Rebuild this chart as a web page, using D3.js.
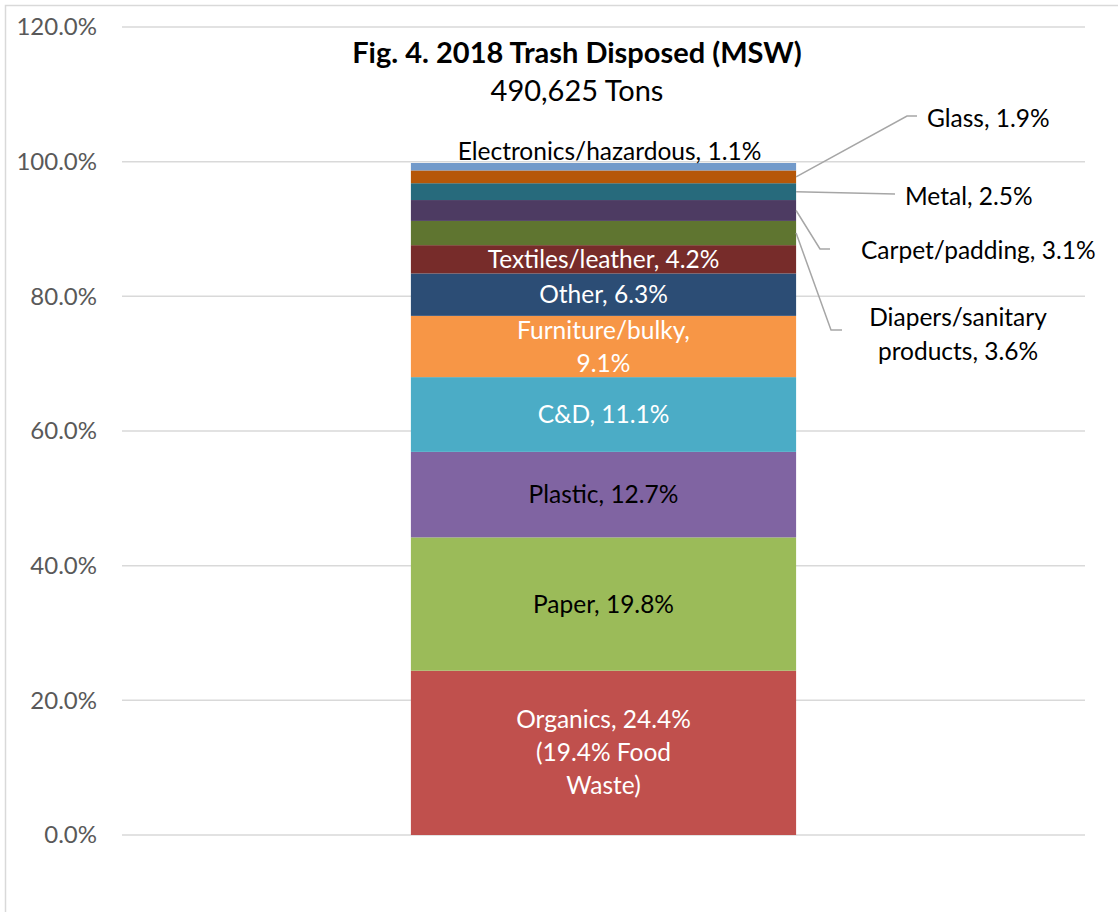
<!DOCTYPE html>
<html>
<head>
<meta charset="utf-8">
<script src="https://cdn.jsdelivr.net/npm/d3@7"></script>
<style>
  body { margin: 0; background: #fff; }
  text { font-family: Lato, "Open Sans", sans-serif; }
</style>
</head>
<body>
<div id="chart"></div>
<script>
// data, bottom to top
const categories = ["Organics", "Paper", "Plastic", "C&D", "Furniture/bulky", "Other",
  "Textiles/leather", "Diapers/sanitary products", "Carpet/padding", "Metal", "Glass",
  "Electronics/hazardous"];
const values = [24.4, 19.8, 12.7, 11.1, 9.1, 6.3, 4.2, 3.6, 3.1, 2.5, 1.9, 1.1];
const labelLines = [
  ["Organics, 24.4%", "(19.4% Food", "Waste)"],
  ["Paper, 19.8%"],
  ["Plastic, 12.7%"],
  ["C&D, 11.1%"],
  ["Furniture/bulky,", "9.1%"],
  ["Other, 6.3%"],
  ["Textiles/leather, 4.2%"],
  ["Diapers/sanitary", "products, 3.6%"],
  ["Carpet/padding, 3.1%"],
  ["Metal, 2.5%"],
  ["Glass, 1.9%"],
  ["Electronics/hazardous, 1.1%"]
];
const yTicks = [0, 20, 40, 60, 80, 100, 120];

const colors = ["#C0504D", "#9BBB59", "#8064A2", "#4BACC6", "#F79646", "#2C4D75",
  "#772C2A", "#5F7530", "#4D3B62", "#276A7C", "#B65708", "#729ACA"];
const textColors = ["#fff", "#000", "#000", "#fff", "#fff", "#fff", "#fff"];

// callout placement for the thin segments (label anchor + elbow of leader line)
const callouts = {
  "Glass": { elbow: [907, 116], end: [917, 116], tx: 927, ty: 118, anchor: "start" },
  "Metal": { elbow: null, end: [895, 194], tx: 905, ty: 196, anchor: "start" },
  "Carpet/padding": { elbow: [820, 249], end: [830, 249], tx: 861, ty: 250, anchor: "start" },
  "Diapers/sanitary products": { elbow: [831, 330], end: [842, 330], tx: 958, ty: 317, anchor: "middle" }
};

const width = 1118, height = 912;
const plotLeft = 122, plotRight = 1085;
const fs = "24.5px";

const svg = d3.select("#chart").append("svg")
  .attr("width", width).attr("height", height);

// chart border (left/top visible)
svg.append("rect")
  .attr("x", 5.5).attr("y", 5.5)
  .attr("width", width + 20).attr("height", height + 20)
  .attr("fill", "none").attr("stroke", "#d9d9d9").attr("stroke-width", 1.5);

const y = d3.scaleLinear().domain([0, 120]).range([835, 27]);
const x = d3.scaleBand().domain(["2018"]).range([plotLeft, plotRight]).paddingInner(0.6).paddingOuter(0.3);

// gridlines
svg.append("g")
  .selectAll("line")
  .data(yTicks)
  .join("line")
  .attr("x1", plotLeft).attr("x2", plotRight)
  .attr("y1", d => y(d)).attr("y2", d => y(d))
  .attr("stroke", "#d9d9d9").attr("stroke-width", 1.5);

// y axis labels
const yAxis = d3.axisLeft(y).tickValues(yTicks).tickFormat(d => d.toFixed(1) + "%").tickSize(0).tickPadding(0);
const ya = svg.append("g").attr("transform", "translate(97,0)").call(yAxis);
ya.select(".domain").remove();
ya.selectAll("text").attr("fill", "#595959").style("font-size", "24px")
  .style("font-family", "Lato, 'Open Sans', sans-serif");

// stack
let acc = 0;
const segs = values.map((v, i) => {
  const s = { name: categories[i], v, y0: acc, y1: acc + v, i };
  acc += v;
  return s;
});

const bx = x("2018"), bw = x.bandwidth();
const cx = bx + bw / 2;

svg.append("g")
  .selectAll("rect")
  .data(segs)
  .join("rect")
  .attr("x", bx).attr("width", bw)
  .attr("y", d => y(d.y1))
  .attr("height", d => y(d.y0) - y(d.y1))
  .attr("fill", d => colors[d.i]);

// inside labels
const inside = segs.filter(d => d.i < 7);
inside.forEach(d => {
  const lines = labelLines[d.i];
  const mid = y((d.y0 + d.y1) / 2);
  const lh = 33;
  const t = svg.append("text")
    .attr("text-anchor", "middle")
    .attr("fill", textColors[d.i])
    .style("font-size", fs);
  lines.forEach((l, k) => {
    t.append("tspan")
      .attr("x", cx)
      .attr("y", mid + (k - (lines.length - 1) / 2) * lh)
      .attr("dy", "0.35em")
      .text(l);
  });
});

// top label (Electronics)
const topSeg = segs[segs.length - 1];
svg.append("text")
  .attr("x", cx + 6).attr("y", y(topSeg.y1) - 12)
  .attr("dy", "0.35em")
  .attr("text-anchor", "middle")
  .style("font-size", fs)
  .text(labelLines[topSeg.i][0]);

// callouts
segs.filter(d => callouts[d.name]).forEach(d => {
  const c = callouts[d.name];
  const start = [bx + bw, y((d.y0 + d.y1) / 2)];
  const pts = [start];
  if (c.elbow) pts.push(c.elbow);
  pts.push(c.end);
  svg.append("path")
    .attr("d", d3.line()(pts))
    .attr("fill", "none").attr("stroke", "#a6a6a6").attr("stroke-width", 1.5);
  const lines = labelLines[d.i];
  const t = svg.append("text")
    .attr("text-anchor", c.anchor)
    .style("font-size", fs);
  lines.forEach((l, k) => {
    t.append("tspan").attr("x", c.tx).attr("y", c.ty + k * 34).attr("dy", "0.35em").text(l);
  });
});

// titles
svg.append("text")
  .attr("x", 577).attr("y", 53).attr("dy", "0.35em")
  .attr("text-anchor", "middle")
  .style("font-size", "29px").style("font-weight", "bold")
  .text("Fig. 4. 2018 Trash Disposed (MSW)");
svg.append("text")
  .attr("x", 577).attr("y", 91).attr("dy", "0.35em")
  .attr("text-anchor", "middle")
  .style("font-size", "29px")
  .text("490,625 Tons");
</script>
</body>
</html>
